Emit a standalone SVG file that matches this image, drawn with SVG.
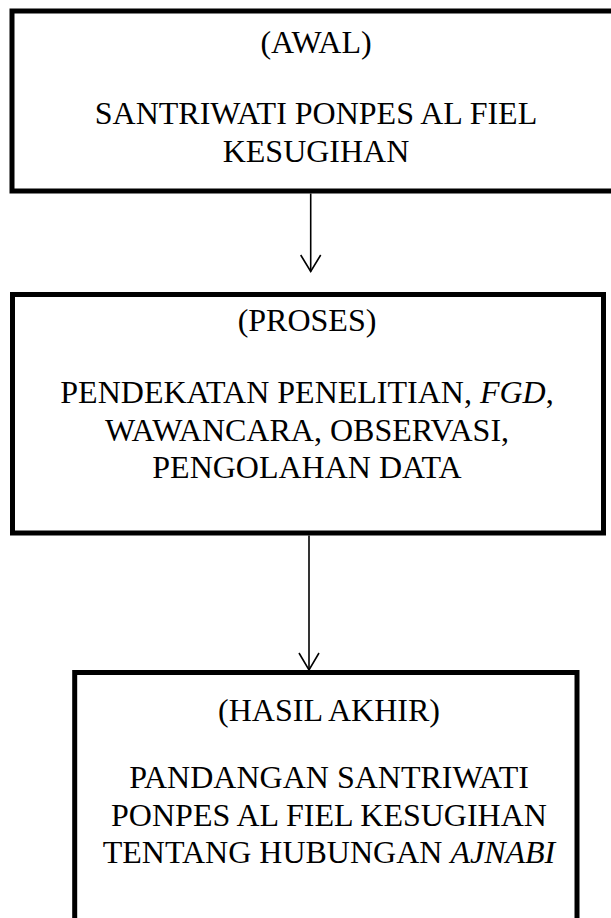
<svg xmlns="http://www.w3.org/2000/svg" width="611" height="918" viewBox="0 0 611 918">
<style>
.box{fill:#fff;stroke:#000;stroke-width:5}
.t{font-family:"Liberation Serif","Times New Roman",serif;font-size:32px;fill:#000;text-anchor:middle}
.c{stroke:#000;stroke-width:1.6;fill:none}
</style>
<rect width="611" height="918" fill="#fff"/>
<g id="awal">
<rect class="box" x="12" y="11" width="608" height="180"/>
<text class="t" x="316" y="53">(AWAL)</text>
<text class="t" x="316" y="124">SANTRIWATI PONPES AL FIEL</text>
<text class="t" x="316" y="161.5">KESUGIHAN</text>
</g>
<g id="proses">
<rect class="box" x="12.5" y="294.5" width="591" height="238.5"/>
<text class="t" x="307" y="331">(PROSES)</text>
<text class="t" x="307" y="403">PENDEKATAN PENELITIAN, <tspan font-style="italic">FGD</tspan>,</text>
<text class="t" x="307" y="441">WAWANCARA, OBSERVASI,</text>
<text class="t" x="307" y="478">PENGOLAHAN DATA</text>
</g>
<g id="hasil">
<rect class="box" x="74.7" y="672.5" width="502.3" height="250"/>
<text class="t" x="329" y="721">(HASIL AKHIR)</text>
<text class="t" x="329" y="788">PANDANGAN SANTRIWATI</text>
<text class="t" x="329" y="825.5">PONPES AL FIEL KESUGIHAN</text>
<text class="t" x="329" y="863">TENTANG HUBUNGAN <tspan font-style="italic">AJNABI</tspan></text>
</g>
<g id="connectors">
<line class="c" x1="310.7" y1="193.5" x2="310.7" y2="271.5"/>
<polyline class="c" points="300.7,255 310.7,271.5 320.7,255"/>
<line class="c" x1="309" y1="535.5" x2="309" y2="670"/>
<polyline class="c" points="299,653 309,670 319,653"/>
</g>
</svg>
